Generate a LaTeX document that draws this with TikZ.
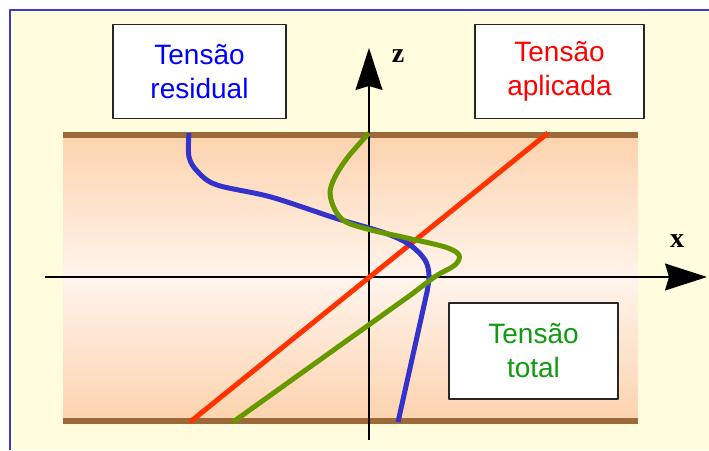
\documentclass[tikz,border=0pt]{standalone}
\usepackage{fontspec}
\setmainfont{Liberation Serif}
\setsansfont{Liberation Sans}
\usetikzlibrary{arrows.meta}
\definecolor{PanelYellow}{HTML}{FFFDDE}
\definecolor{FrameBlue}{HTML}{3A3ACC}
\definecolor{PlateBrown}{HTML}{9C6A3A}
\definecolor{PlatePeach}{HTML}{FDD3AE}
\definecolor{PlateLight}{HTML}{FFF4EC}
\definecolor{StressBlue}{HTML}{3333CC}
\definecolor{StressRed}{HTML}{FF3300}
\definecolor{StressGreen}{HTML}{669900}
\definecolor{LabelBlue}{HTML}{0000FF}
\definecolor{LabelRed}{HTML}{FF0000}
\definecolor{LabelGreen}{HTML}{109A10}

\begin{document}
\begin{tikzpicture}[x=1pt,y=-1pt,line join=round,
    labelbox/.style={draw=black!85,fill=white,line width=1.6pt,align=center,
      minimum height=94pt,font=\sffamily\fontsize{28}{34}\selectfont},
    axis/.style={line width=1.3pt,-{Stealth[length=42pt,width=27pt,inset=4pt]}},
    axislabel/.style={font=\bfseries\fontsize{28}{30}\selectfont},
    band/.style={PlateBrown,line width=6pt},
    stress/.style={line width=5pt,smooth,tension=0.55}]
  \useasboundingbox (0,0) rectangle (709,450);
  % panel and frame
  \fill[PanelYellow] (10,10) rectangle (709,450);
  \draw[FrameBlue,line width=2pt] (10,450) -- (10,10) -- (709,10);
  % plate
  \shade[top color=PlatePeach,bottom color=PlatePeach,middle color=PlateLight]
    (63,135) rectangle (638,421);
  \draw[band] (63,135) -- (638,135);
  \draw[band] (63,421) -- (638,421);
  % axes
  \coordinate (O) at (369,277);
  \coordinate (xstart) at (45,277);
  \coordinate (xend) at (707,277);
  \coordinate (zstart) at (369,440);
  \coordinate (zend) at (369,48);
  \draw[axis] (xstart) -- (xend);
  \draw[axis] (zstart) -- (zend);
  \node[axislabel,anchor=base] (zlabel) at (398,62) {z};
  \node[axislabel,anchor=base] (xlabel) at (677,247) {x};
  % stress profiles
  \draw[StressRed,line width=5pt] (548,133) -- (190,422);
  \draw[stress,StressBlue] plot coordinates {(189,133) (189,157) (198,172)
    (217,185) (271,197) (335,218) (385,233) (410,245) (425,260) (429,275)
    (427,292)} -- (398,422);
  \draw[stress,StressGreen] plot coordinates {(369,133) (348,157) (335,177)
    (330,193) (335,210) (346,222) (371,230) (407,238) (445,247) (459,255)
    (455,265) (436,276) (412,294)} -- (233,422);
  % labels
  \node[labelbox,minimum width=173pt,text=LabelBlue] (residual) at (199.5,71.5)
    {Tensão\\residual};
  \node[labelbox,minimum width=169pt,text=LabelRed] (aplicada) at (559.5,71.5)
    {Tensão\\aplicada};
  \node[labelbox,minimum width=169pt,minimum height=96pt,text=LabelGreen]
    (total) at (533.5,351) {Tensão\\total};
\end{tikzpicture}
\end{document}
